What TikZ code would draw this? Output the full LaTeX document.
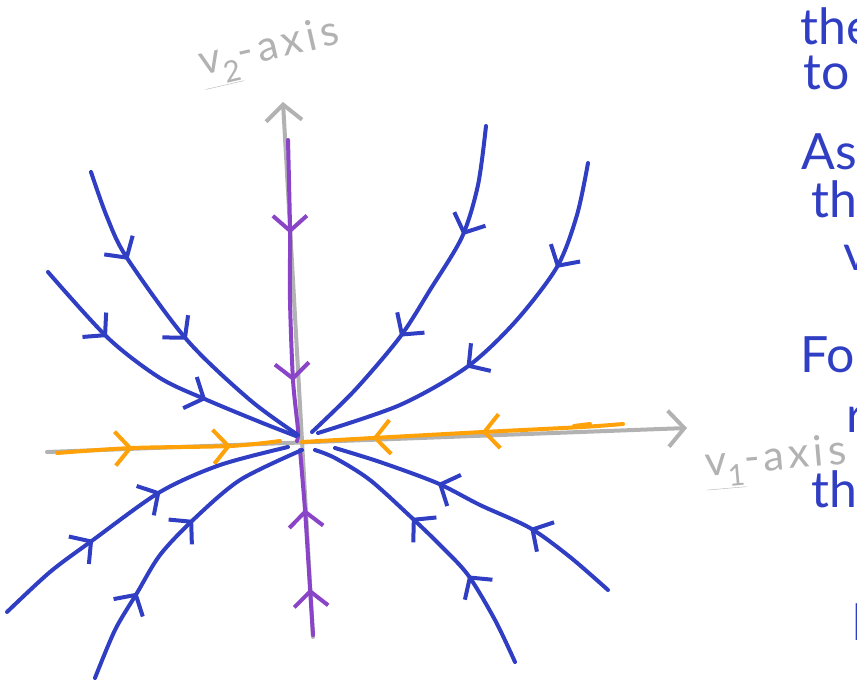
\documentclass[tikz,border=0pt]{standalone}
\usepackage{fontspec}
\setmainfont{Lato}
\usetikzlibrary{arrows.meta,decorations.markings}
\definecolor{penblue}{RGB}{48,62,196}
\definecolor{penpurple}{RGB}{138,68,200}
\definecolor{penorange}{RGB}{255,162,10}
\definecolor{pengray}{RGB}{178,178,178}
\tikzset{>={Straight Barb[length=15pt,width=34pt]},
ink/.style={line width=4pt,line cap=round,line join=round},
flow/.style 2 args={ink,postaction={decorate},decoration={markings,mark=at position #1 with {\arrow{>}},mark=at position #2 with {\arrow{>}}}},
axisline/.style={ink,pengray,-{Straight Barb[length=16pt,width=36pt]}},
note/.style={penblue,anchor=base west,font=\fontsize{50}{50}\selectfont},
axlabel/.style={pengray,font=\fontsize{42}{42}\selectfont\addfontfeatures{LetterSpace=10}}}

\begin{document}
\begin{tikzpicture}[x=1pt,y=-1pt]
\useasboundingbox (0,0) rectangle (857,687);\clip (0,0) rectangle (857,687);
% axes
\coordinate (hL) at (47,452);\coordinate (hR) at (687,428);
\coordinate (vB) at (313,637);\coordinate (vT) at (283,102);
\draw[axisline] (hL)--(hR);\draw[axisline] (vB)--(vT);
\node[axlabel,rotate=13] (v2lab) at (270,52) {\underline{v\textsubscript{2}}-axis};
\node[axlabel,rotate=5] (v1lab) at (776,462) {\underline{v\textsubscript{1}}-axis};
% eigen-directions
\draw[flow={.31}{.8},penpurple] plot[smooth] coordinates {(288,140) (290,230) (290,300) (293,380) (298,430) (297,441)};
\draw[flow={.25}{.68},penpurple] plot[smooth] coordinates {(313,635) (310,588) (305,510) (300,450)};
\draw[flow={.34}{.78},penorange] plot[smooth] coordinates {(57,453) (132,448) (230,446) (280,441)};
\draw[flow={.44}{.78},penorange] plot[smooth] coordinates {(623,424) (582,427) (483,432) (373,438) (302,442)};
\draw[ink,penorange] (574,426)--(590,424);
% trajectories
\draw[flow={.28}{.57},penblue] plot[smooth] coordinates {(91,172) (107,217) (127,258) (187,340) (250,400) (298,435)};
\draw[flow={.29}{.68},penblue] plot[smooth] coordinates {(48,272) (108,338) (160,378) (207,400) (260,422) (296,436)};
\draw[flow={.31}{.64},penblue] plot[smooth] coordinates {(486,126) (478,185) (462,237) (430,290) (400,337) (355,390) (312,432)};
\draw[flow={.27}{.6},penblue] plot[smooth] coordinates {(588,163) (577,215) (557,267) (515,322) (467,367) (400,405) (318,433)};
\draw[flow={.34}{.59},penblue] plot[smooth] coordinates {(7,612) (50,572) (93,540) (160,492) (220,465) (288,447)};
\draw[flow={.3}{.59},penblue] plot[smooth] coordinates {(95,678) (115,630) (137,593) (160,555) (193,520) (240,480) (302,450)};
\draw[flow={.33}{.6},penblue] plot[smooth] coordinates {(515,662) (495,620) (468,575) (440,545) (412,518) (370,480) (335,458) (315,450)};
\draw[flow={.32}{.65},penblue] plot[smooth] coordinates {(608,590) (570,557) (530,528) (480,505) (437,483) (380,462) (335,448)};
% notes cut off at the right edge
\node[note] (n1) at (797,45) {the};\node[note] (n2) at (800,90) {to};
\node[note] (n3) at (798,170) {As};\node[note] (n4) at (808,218) {th};
\node[note] (n5) at (840,270) {v};\node[note] (n6) at (797,372) {Fo};
\node[note] (n7) at (843,432) {r};\node[note] (n8) at (808,507) {th};
\node[note] (n9) at (849,640) {l};
\end{tikzpicture}
\end{document}
